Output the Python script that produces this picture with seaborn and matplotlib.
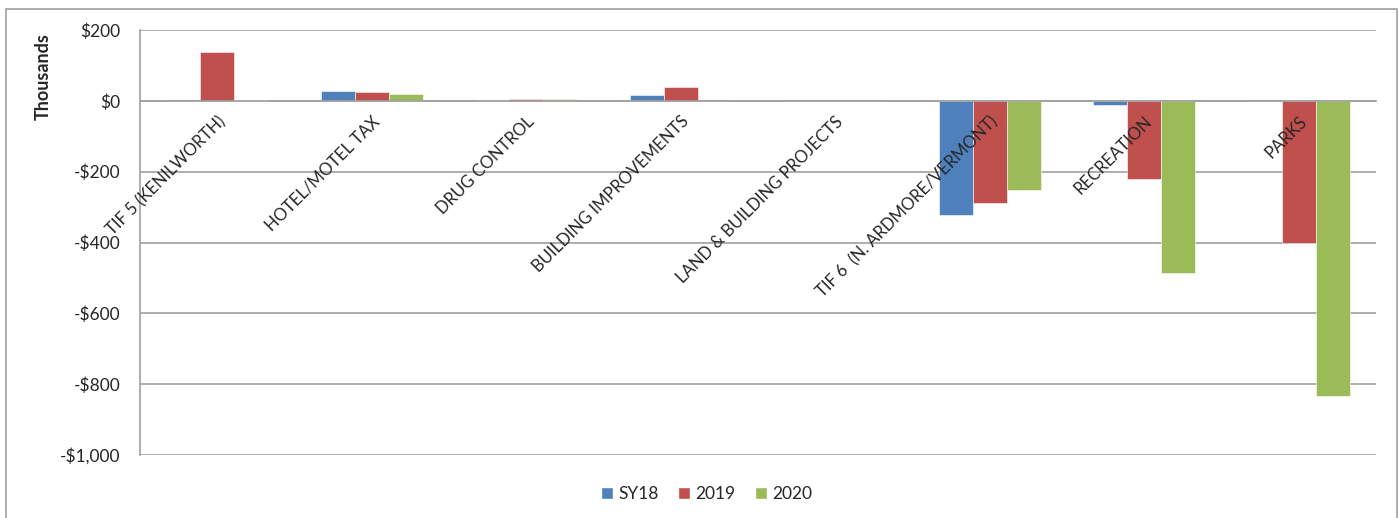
import matplotlib
matplotlib.use("Agg")
import matplotlib.pyplot as plt
import matplotlib.patches as mpatches
from matplotlib.ticker import FuncFormatter
import seaborn as sns
import pandas as pd

categories = [
    "TIF 5 (KENILWORTH)",
    "HOTEL/MOTEL TAX",
    "DRUG CONTROL",
    "BUILDING IMPROVEMENTS",
    "LAND & BUILDING PROJECTS",
    "TIF 6  (N. ARDMORE/VERMONT)",
    "RECREATION",
    "PARKS",
]
series_names = ["SY18", "2019", "2020"]
sy18 = [0, 28, 2, 16, 0, -322, -11, 0]
y2019 = [138, 24, 5, 38, 0, -287, -220, -401]
y2020 = [3, 20, 6, 0, 0, -253, -486, -833]
yticks = [200, 0, -200, -400, -600, -800, -1000]

colors = ["#4F81BD", "#C0504D", "#9BBB59"]
grid_gray = "#A0A0A0"

rows = []
for name, vals in zip(series_names, [sy18, y2019, y2020]):
    for cat, v in zip(categories, vals):
        rows.append({"category": cat, "series": name, "value": v})
df = pd.DataFrame(rows)

sns.set_style("white")
plt.rcParams["font.family"] = ["Lato", "DejaVu Sans"]

fig = plt.figure(figsize=(13.99, 5.18), dpi=100)
ax = fig.add_axes([0.1, 0.1216, 0.8836, 0.8204])

sns.barplot(data=df, x="category", y="value", hue="series", order=categories,
            hue_order=series_names, palette=colors, width=0.66, ax=ax,
            saturation=1, legend=False, zorder=2)
for p in ax.patches:
    p.set_edgecolor("white")
    p.set_linewidth(0.4)

ax.set_ylim(-1000, 200)
ax.set_xlim(-0.5, len(categories) - 0.5)
ax.set_yticks(yticks)
ax.yaxis.set_major_formatter(FuncFormatter(
    lambda v, _: ("-$" if v < 0 else "$") + f"{abs(int(v)):,}"))
for t in yticks:
    ax.axhline(t, color=grid_gray, lw=1.2, zorder=0.5)

for side in ["top", "right"]:
    ax.spines[side].set_visible(False)
ax.spines["left"].set_color(grid_gray)
ax.spines["left"].set_linewidth(1.2)
ax.spines["bottom"].set_position(("data", 0))
ax.spines["bottom"].set_color(grid_gray)
ax.spines["bottom"].set_linewidth(1.2)

ax.tick_params(axis="both", length=0)
ax.tick_params(axis="y", labelsize=12.5, pad=14)
ax.tick_params(axis="x", labelsize=12, pad=9)
ax.set_xticks(range(len(categories)))
ax.set_xticklabels(categories, rotation=45, ha="right", va="top",
                   rotation_mode="anchor")
# category labels sit on top of the bars
ax.xaxis.set_zorder(3)
ax.spines["bottom"].set_zorder(3)
ax.set_xlabel("")
ax.set_ylabel("Thousands", fontsize=13, fontweight="bold")
ax.yaxis.set_label_coords(-0.071, 0.89)

handles = [mpatches.Patch(facecolor=c, label=n) for c, n in zip(colors, series_names)]
fig.legend(handles=handles, loc="center", bbox_to_anchor=(0.505, 0.046), ncol=3,
           frameon=False, fontsize=12.5, handlelength=0.7, handleheight=0.7,
           handletextpad=0.3, columnspacing=1.1)

border = mpatches.Rectangle((0.0043, -0.02), 0.9943, 1.0026, transform=fig.transFigure,
                            fill=False, edgecolor=grid_gray, lw=1.2, clip_on=False)
fig.patches.append(border)

fig.savefig("out.png", dpi=100, facecolor="white")
